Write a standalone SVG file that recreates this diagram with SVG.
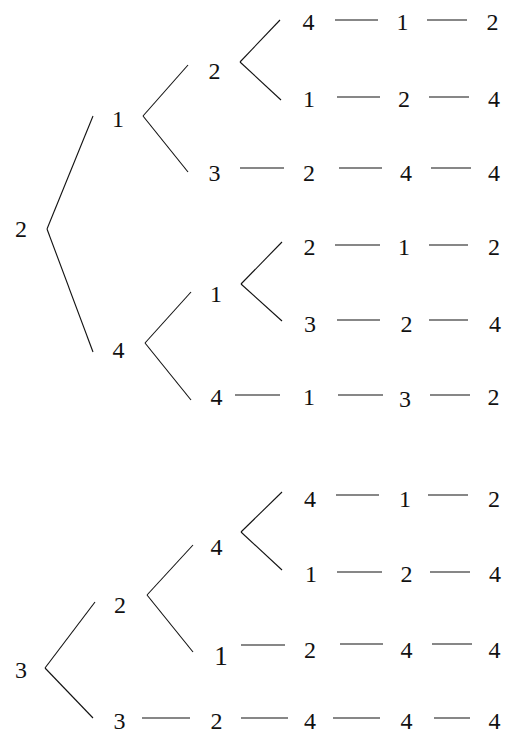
<svg xmlns="http://www.w3.org/2000/svg" width="518" height="734" viewBox="0 0 518 734">
<style>
text{font-family:"Liberation Serif","Times New Roman",serif;font-size:24px;fill:#111;text-anchor:middle}
line{stroke:#111;stroke-width:1.1;fill:none}
</style>
<rect width="518" height="734" fill="#fff"/>
<g id="connectors">
<line x1="47" y1="229" x2="93" y2="116"/>
<line x1="47" y1="229" x2="93" y2="352"/>
<line x1="143" y1="116" x2="188" y2="65"/>
<line x1="143" y1="116" x2="188" y2="172"/>
<line x1="240" y1="62" x2="280" y2="20"/>
<line x1="240" y1="62" x2="281" y2="100"/>
<line x1="335" y1="20" x2="378" y2="20"/>
<line x1="427" y1="20" x2="467" y2="20"/>
<line x1="337" y1="97" x2="380" y2="97"/>
<line x1="429" y1="97" x2="469" y2="97"/>
<line x1="240" y1="168" x2="284" y2="168"/>
<line x1="339" y1="168" x2="382" y2="168"/>
<line x1="431" y1="168" x2="471" y2="168"/>
<line x1="145" y1="343" x2="191" y2="292"/>
<line x1="145" y1="343" x2="191" y2="400"/>
<line x1="241" y1="284" x2="282" y2="242"/>
<line x1="241" y1="284" x2="282" y2="321"/>
<line x1="335" y1="245" x2="380" y2="245"/>
<line x1="429" y1="245" x2="468" y2="245"/>
<line x1="337" y1="320" x2="380" y2="320"/>
<line x1="429" y1="320" x2="468" y2="320"/>
<line x1="235" y1="395" x2="280" y2="395"/>
<line x1="338" y1="395" x2="383" y2="395"/>
<line x1="430" y1="395" x2="470" y2="395"/>
<line x1="45" y1="668" x2="95" y2="602"/>
<line x1="45" y1="668" x2="93" y2="718"/>
<line x1="147" y1="595" x2="193" y2="545"/>
<line x1="147" y1="595" x2="193" y2="652"/>
<line x1="241" y1="532" x2="282" y2="492"/>
<line x1="241" y1="532" x2="282" y2="570"/>
<line x1="336" y1="495" x2="379" y2="495"/>
<line x1="428" y1="495" x2="468" y2="495"/>
<line x1="337" y1="572" x2="382" y2="572"/>
<line x1="430" y1="572" x2="470" y2="572"/>
<line x1="241" y1="645" x2="285" y2="645"/>
<line x1="340" y1="644" x2="383" y2="644"/>
<line x1="432" y1="644" x2="472" y2="644"/>
<line x1="142" y1="718" x2="190" y2="718"/>
<line x1="241" y1="718" x2="288" y2="718"/>
<line x1="333" y1="718" x2="380" y2="718"/>
<line x1="434" y1="718" x2="470" y2="718"/>
</g>
<g id="t1-root"><text x="21" y="237">2</text></g>
<g id="t1-a"><text x="118" y="127">1</text></g>
<g id="t1-b"><text x="118.5" y="358">4</text></g>
<g id="t1-aa"><text x="214.5" y="79">2</text></g>
<g id="t1-ab"><text x="214.5" y="181">3</text></g>
<g id="t1-ba"><text x="216" y="302">1</text></g>
<g id="t1-bb"><text x="216.5" y="405">4</text></g>
<g id="rowA"><text x="308.5" y="30">4</text><text x="402.5" y="30">1</text><text x="492.5" y="30">2</text></g>
<g id="rowB"><text x="309" y="107">1</text><text x="404" y="107">2</text><text x="494" y="107">4</text></g>
<g id="rowC"><text x="309" y="181">2</text><text x="406" y="181">4</text><text x="494" y="181">4</text></g>
<g id="rowD"><text x="309.5" y="255">2</text><text x="404" y="255">1</text><text x="494" y="255">2</text></g>
<g id="rowE"><text x="310" y="332">3</text><text x="406.5" y="332">2</text><text x="495" y="332">4</text></g>
<g id="rowF"><text x="309" y="405">1</text><text x="405" y="407">3</text><text x="493.5" y="405">2</text></g>
<g id="t2-root"><text x="21" y="678">3</text></g>
<g id="t2-a"><text x="120" y="613">2</text></g>
<g id="t2-b"><text x="119.5" y="729">3</text></g>
<g id="t2-aa"><text x="216.5" y="555">4</text></g>
<g id="t2-ab"><text x="221" y="665" style="font-size:27px">1</text></g>
<g id="rowG"><text x="310" y="507">4</text><text x="405" y="507">1</text><text x="494" y="507">2</text></g>
<g id="rowH"><text x="311" y="582">1</text><text x="406.5" y="582">2</text><text x="495" y="582">4</text></g>
<g id="rowI"><text x="310" y="658">2</text><text x="406.5" y="658">4</text><text x="494.5" y="658">4</text></g>
<g id="rowJ"><text x="216.5" y="729">2</text><text x="310" y="729">4</text><text x="406.5" y="729">4</text><text x="494.5" y="729">4</text></g>
</svg>
